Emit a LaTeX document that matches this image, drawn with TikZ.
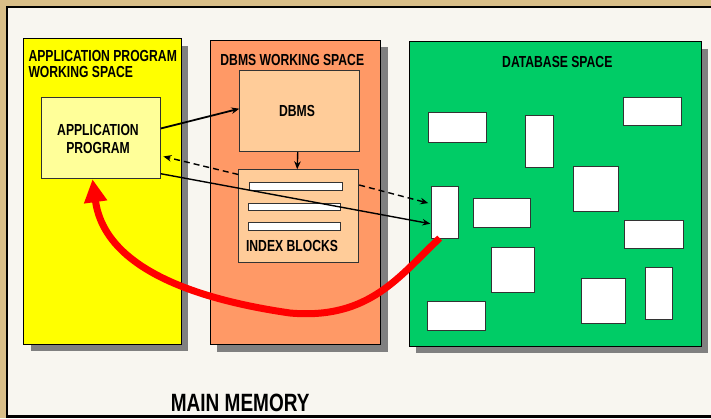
\documentclass[tikz,border=0pt]{standalone}
\usepackage{fontspec}
\newfontfamily\lbl{Liberation Sans}[FakeStretch=0.76]
\usetikzlibrary{arrows.meta,shadows}
\definecolor{tanc}{HTML}{D8BE88}
\definecolor{bgc}{HTML}{F8F6F0}
\definecolor{yel}{HTML}{FFFF00}
\definecolor{lyel}{HTML}{FFFF99}
\definecolor{orng}{HTML}{FF9966}
\definecolor{peach}{HTML}{FFCC99}
\definecolor{grn}{HTML}{00CC66}
\definecolor{shd}{HTML}{808080}
\begin{document}
\begin{tikzpicture}[x=1pt,y=-1pt,
  space/.style={draw=black, line width=1pt, inner sep=0pt, anchor=north west,
    drop shadow={shadow xshift=7pt, shadow yshift=-7pt, fill=shd, opacity=1}},
  inbox/.style={draw=black!80, line width=0.9pt, inner sep=0pt, anchor=north west},
  blk/.style={draw=black!80, fill=white, line width=0.8pt, inner sep=0pt, anchor=north west},
  txt/.style={inner sep=0pt, font=\lbl\bfseries\fontsize{16}{16}\selectfont},
  bigtxt/.style={inner sep=0pt, font=\lbl\bfseries\fontsize{25}{25}\selectfont},
  conn/.style={draw=black, line width=1.4pt, -{Stealth[length=8pt,width=6.5pt]}},
  dconn/.style={conn, dash pattern=on 6pt off 4pt},
  redarrow/.style={draw=red, line width=7pt, -{Triangle[length=23pt,width=22pt]}}
]
\useasboundingbox (0,0) rectangle (711,418);
\clip (0,0) rectangle (711,418);
\fill[tanc] (0,0) rectangle (711,418);
\draw[fill=bgc, line width=2.5pt] (7,7) rectangle (730,416.5);

% working spaces
\node[space, fill=yel, minimum width=157.5pt, minimum height=305.5pt] (ybox) at (23,38) {};
\node[space, fill=orng, minimum width=170.5pt, minimum height=304.5pt] (obox) at (209.5,39.5) {};
\node[space, fill=grn, minimum width=292.2pt, minimum height=304.5pt] (gbox) at (408.5,41) {};

% inner boxes
\node[inbox, fill=lyel, minimum width=119.3pt, minimum height=81.6pt] (appbox) at (40.7,96.7) {};
\node[inbox, fill=peach, minimum width=120pt, minimum height=81.5pt] (dbmsbox) at (239.3,69.5) {};
\node[inbox, fill=peach, minimum width=120pt, minimum height=92.4pt] (indexbox) at (238.3,169.3) {};

% index bars
\node[blk, minimum width=92.4pt, minimum height=7.7pt] (b1) at (249.3,182.3) {};
\node[blk, minimum width=91.7pt, minimum height=7.3pt] (b2) at (248.3,202.7) {};
\node[blk, minimum width=91.7pt, minimum height=7.7pt] (b3) at (248.3,222.3) {};

% database blocks
\node[blk, minimum width=57.4pt, minimum height=29.4pt] (r1) at (428.3,112.3) {};
\node[blk, minimum width=27.7pt, minimum height=52.6pt] (r2) at (525.3,114.7) {};
\node[blk, minimum width=57.4pt, minimum height=28.6pt] (r3) at (623.3,96.7) {};
\node[blk, minimum width=27pt, minimum height=52.6pt] (r4) at (431.3,185.7) {};
\node[blk, minimum width=57pt, minimum height=28.7pt] (r5) at (473.3,198.3) {};
\node[blk, minimum width=44.4pt, minimum height=45pt] (r6) at (573.3,165.7) {};
\node[blk, minimum width=58.4pt, minimum height=28pt] (r7) at (624.3,219.7) {};
\node[blk, minimum width=43.3pt, minimum height=45pt] (r8) at (490.7,246.7) {};
\node[blk, minimum width=58.3pt, minimum height=29pt] (r9) at (426.7,301.3) {};
\node[blk, minimum width=43.4pt, minimum height=45pt] (r10) at (581.3,278) {};
\node[blk, minimum width=27pt, minimum height=52.6pt] (r11) at (645,266.7) {};

% texts
\node[txt, anchor=base west] (t1) at (28.3,61.7) {APPLICATION PROGRAM};
\node[txt, anchor=base west] (t2) at (28.3,77) {WORKING SPACE};
\node[txt, anchor=base] (t3) at (292.3,65) {DBMS WORKING SPACE};
\node[txt, anchor=base] (t4) at (557.3,67) {DATABASE SPACE};
\node[txt, anchor=base] (t5) at (297,116) {DBMS};
\node[txt, anchor=base] (t6) at (98,135.7) {APPLICATION};
\node[txt, anchor=base] (t7) at (98,153.3) {PROGRAM};
\node[txt, anchor=base] (t8) at (292,251.7) {INDEX BLOCKS};
\node[bigtxt, anchor=base west] (t9) at (170.7,411.7) {MAIN MEMORY};

% connectors
\draw[conn, line width=1.8pt] ([yshift=9.5pt]appbox.east) -- ([yshift=2pt]dbmsbox.west);
\draw[conn] ([xshift=-2pt]dbmsbox.south) -- ([xshift=-1.5pt]indexbox.north);
\draw[dconn] ([yshift=-5.2pt]indexbox.north west) -- ([xshift=2.5pt,yshift=-18.5pt]appbox.east);
\draw[dconn] ([yshift=-15.7pt]indexbox.north east) -- ([xshift=-3pt,yshift=9.3pt]r4.west);
\draw[conn] ([yshift=-35.8pt]appbox.east) -- ([xshift=-1pt,yshift=-11.3pt]r4.west);

% red curve
\draw[redarrow] ([xshift=-5.5pt,yshift=1pt]r4.south) .. controls (400,275) and (370,320) .. (290,313)
  .. controls (200,300) and (105,270) .. ([xshift=-8.3pt]appbox.south);
\end{tikzpicture}
\end{document}
